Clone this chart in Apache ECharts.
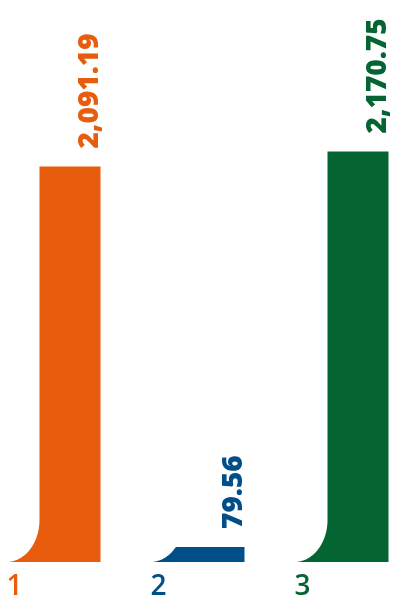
<!DOCTYPE html>
<html><head><meta charset="utf-8">
<script src="https://cdn.jsdelivr.net/npm/echarts@6/dist/echarts.min.js"></script>
<style>html,body{margin:0;padding:0;background:#fff}#c{width:393px;height:603px}</style>
</head><body><div id="c"></div>
<script>
const categories = ['1', '2', '3'];
const values = [2091.19, 79.56, 2170.75];
const colors = ['#E85C0E', '#014F88', '#046532'];

const chart = echarts.init(document.getElementById('c'), null, {renderer: 'canvas'});
const BAR_W = 61, FOOT_W = 33, FOOT_H = 42;
const FONT = '"Open Sans", "Noto Sans", sans-serif';

function fmt(v) {
  return v.toLocaleString('en-US', {minimumFractionDigits: 2, maximumFractionDigits: 2});
}

function renderItem(params, api) {
  const i = api.value(0);
  const v = api.value(1);
  const base = api.coord([i, 0]);
  const topP = api.coord([i, v]);
  const cx = base[0], bottom = base[1], top = topP[1];
  const left = cx - BAR_W / 2, right = cx + BAR_W / 2;
  const pts = [];
  const ex = left - FOOT_W, ey = bottom - FOOT_H;
  const N = 30;
  for (let k = 0; k <= N; k++) {
    const t = (Math.PI / 2) * (k / N);
    let x = ex + FOOT_W * Math.sin(t);
    let y = ey + FOOT_H * Math.cos(t);
    if (y < top) y = top;
    pts.push([x, y]);
  }
  pts.push([left, top]);
  pts.push([right, top]);
  pts.push([right, bottom]);
  const color = colors[i];
  return {
    type: 'group',
    children: [
      {type: 'polygon', shape: {points: pts}, style: {fill: color}},
      {
        type: 'text', x: cx + 20, y: top - 18, rotation: Math.PI / 2,
        style: {text: fmt(v), fill: color, font: '800 28px ' + FONT, align: 'left', verticalAlign: 'middle'}
      },
      {
        type: 'text', x: left - FOOT_W, y: 587,
        style: {text: categories[i], fill: color, font: '600 28px ' + FONT, align: 'left', verticalAlign: 'middle'}
      }
    ]
  };
}

chart.setOption({
  animation: false,
  grid: {left: 0, right: 0, top: 146, bottom: 41, containLabel: false},
  xAxis: {type: 'value', min: -0.486, max: 2.243, show: false},
  yAxis: {type: 'value', min: 0, max: 2200, show: false},
  series: [{
    type: 'custom',
    renderItem: renderItem,
    clip: false,
    data: values.map((v, i) => [i, v])
  }]
});
</script>
</body></html>
